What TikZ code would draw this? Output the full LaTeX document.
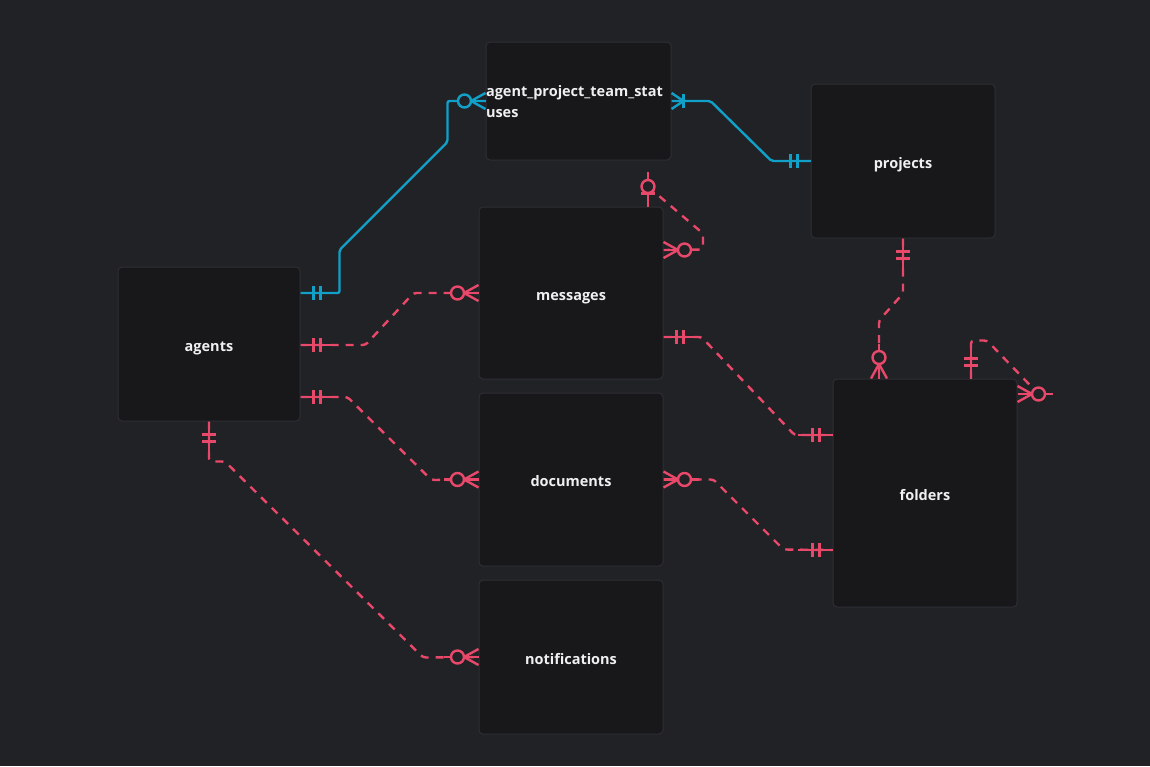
\documentclass[tikz,border=0pt]{standalone}
\usepackage{fontspec}
\setmainfont{Open Sans}
\definecolor{bg}{RGB}{33, 34, 38}
\definecolor{boxfill}{RGB}{24, 24, 27}
\definecolor{boxline}{RGB}{46, 47, 52}
\definecolor{relblue}{RGB}{16, 160, 200}
\definecolor{relred}{RGB}{232, 72, 106}
\definecolor{label}{RGB}{240, 240, 242}

\tikzset{
  pics/onebars/.style={code={
    \draw (0,0) -- (35,0);
    \draw (13,-7) -- (13,7);
    \draw (20,-7) -- (20,7);
  }},
  pics/onemany/.style={code={
    \draw (0,0) -- (35,0);
    \draw (0,8) -- (12,0) -- (0,-8);
    \draw (12,-7) -- (12,7);
  }},
  pics/zeromany/.style={code={
    \draw (0,0) -- (35,0);
    \draw (0,8) -- (14.5,0) -- (0,-8);
    \draw[fill=bg] (21,0) circle (6.5);
  }},
  pics/zeroone/.style={code={
    \draw (0,0) -- (35,0);
    \draw (13,-7) -- (13,7);
    \draw[fill=bg] (20,0) circle (6.5);
  }}
}

\begin{document}
\begin{tikzpicture}
  [
    x = 1pt, y = -1pt,
    entity/.style   = {rectangle, rounded corners=4pt, draw=boxline, fill=boxfill,
                       line width=1pt, text=label, inner sep=0pt, minimum width=184pt,
                       font=\fontsize{14.5}{21}\selectfont\bfseries},
    lowtext/.style  = {text height=14pt, text depth=0pt},
    blueline/.style = {color=relblue, line width=2.4pt},
    redline/.style  = {color=relred, line width=2.4pt},
    reddash/.style  = {redline, dash pattern=on 8pt off 7pt}
  ]
  \path[fill=bg, use as bounding box] (0,0) rectangle (1150,766);

  % tables
  \node [entity, minimum width=185pt, minimum height=118pt, text width=185pt, align=left,
         text height=10pt, text depth=20pt] (teamstat) at (578.5,101) {agent\_project\_team\_stat\\uses};
  \node [entity, lowtext, minimum height=154pt] (projects) at (903,161) {projects};
  \node [entity, lowtext, minimum width=182pt, minimum height=154pt] (agents) at (209,344) {agents};
  \node [entity, lowtext, minimum height=172pt] (messages) at (571,293) {messages};
  \node [entity, lowtext, minimum height=173pt] (documents) at (571,479.5) {documents};
  \node [entity, lowtext, minimum height=154pt] (notifications) at (571,657) {notifications};
  \node [entity, lowtext, minimum height=228pt] (folders) at (925,493) {folders};

  % identifying relations
  \draw[blueline, rounded corners=2pt] ([yshift=51]agents.east) -- ++(39,0) -- ++(0,-43)
        -- ++(108,-108) -- ++(0,-41) -- (teamstat.west);
  \pic[blueline] at ([yshift=51]agents.east) {onebars};
  \pic[blueline, rotate=180] at (teamstat.west) {zeromany};

  \draw[blueline, rounded corners=2pt] (teamstat.east) -- ++(39,0) -- ++(61,60) -- (projects.west);
  \pic[blueline] at (teamstat.east) {onemany};
  \pic[blueline, rotate=180] at (projects.west) {onebars};

  % non-identifying relations
  \draw[reddash, rounded corners=3pt] ([yshift=-1]agents.east) -- ++(65,0) -- ++(48,-52) -- (messages.west);
  \pic[redline] at ([yshift=-1]agents.east) {onebars};
  \pic[redline, rotate=180] at (messages.west) {zeromany};

  \draw[reddash, rounded corners=3pt] ([yshift=-53]agents.east) -- ++(47,0) -- ++(84,83) -- (documents.west);
  \pic[redline] at ([yshift=-53]agents.east) {onebars};
  \pic[redline, rotate=180] at (documents.west) {zeromany};

  \draw[reddash, rounded corners=3pt] (agents.south) -- ++(0,40) -- ++(16,0) -- ++(198,196) -- (notifications.west);
  \pic[redline, rotate=-90] at (agents.south) {onebars};
  \pic[redline, rotate=180] at (notifications.west) {zeromany};

  \draw[reddash, rounded corners=3pt] ([xshift=77,yshift=20]messages.north) -- ++(55,47) -- ++(0,16)
        -- ([yshift=43]messages.east);
  \pic[redline, rotate=90] at ([xshift=77]messages.north) {zeroone};
  \pic[redline] at ([yshift=43]messages.east) {zeromany};

  \draw[reddash, rounded corners=3pt] ([yshift=-44]messages.east) -- ++(38,0) -- ++(93,98) -- ([yshift=58]folders.west);
  \pic[redline] at ([yshift=-44]messages.east) {onebars};
  \pic[redline, rotate=180] at ([yshift=58]folders.west) {onebars};

  \draw[reddash, rounded corners=3pt] (documents.east) -- ++(50,0) -- ++(70,70) -- ([yshift=-57]folders.west);
  \pic[redline] at (documents.east) {zeromany};
  \pic[redline, rotate=180] at ([yshift=-57]folders.west) {onebars};

  \draw[reddash, rounded corners=3pt] (projects.south) -- ++(0,55) -- ++(-24,27) -- ([xshift=-46]folders.north);
  \pic[redline, rotate=-90] at (projects.south) {onebars};
  \pic[redline, rotate=90] at ([xshift=-46]folders.north) {zeromany};

  \draw[reddash, rounded corners=3pt] ([xshift=46]folders.north) -- ++(0,-38) -- ++(16,0) -- ++(51,53);
  \pic[redline, rotate=90] at ([xshift=46]folders.north) {onebars};
  \pic[redline] at ([yshift=99]folders.east) {zeromany};
\end{tikzpicture}
\end{document}
